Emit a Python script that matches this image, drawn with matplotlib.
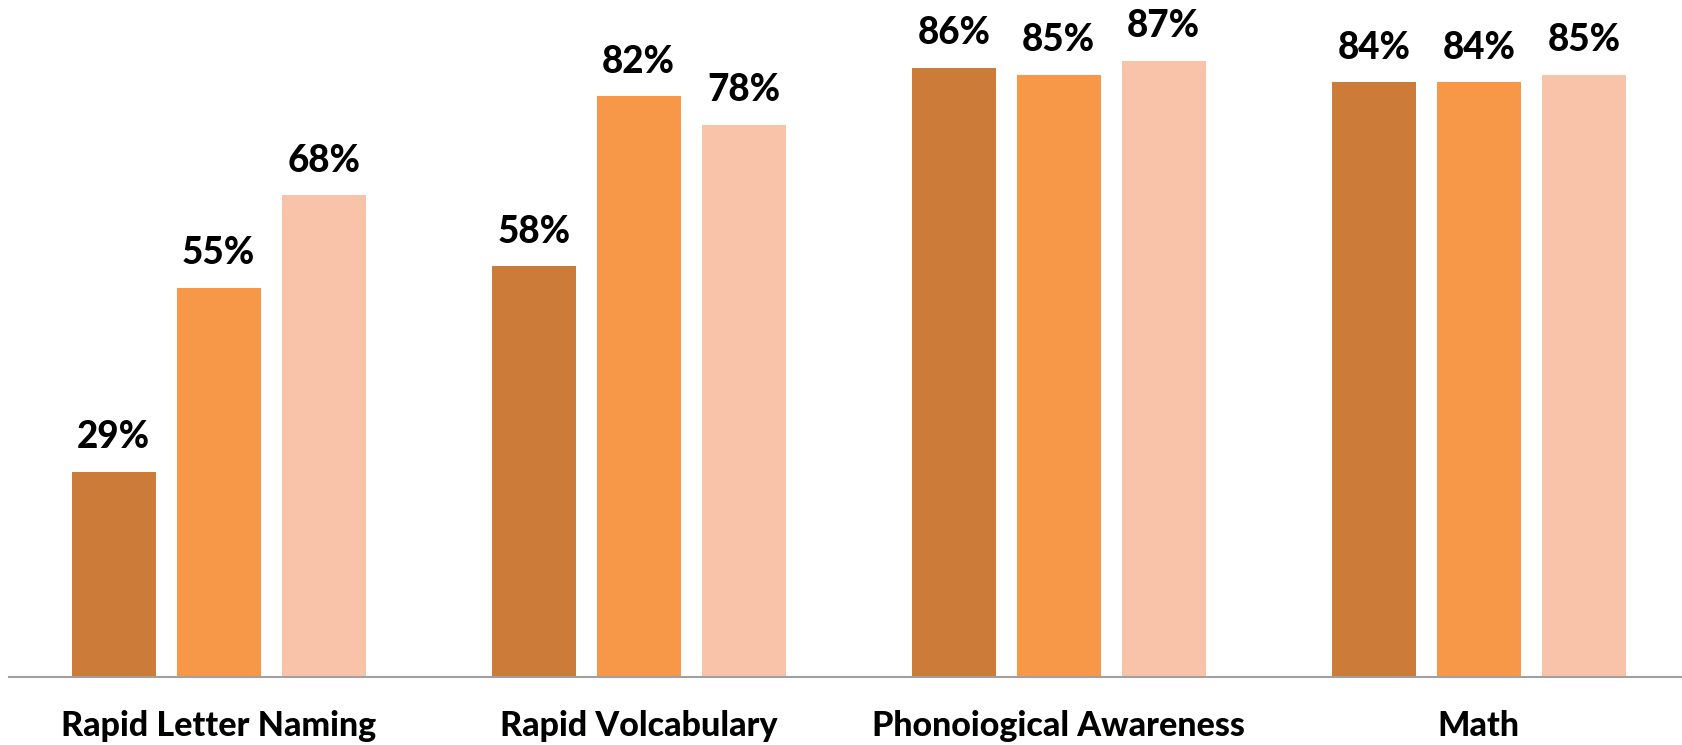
import numpy as np
import matplotlib.pyplot as plt

plt.rcParams['font.family'] = ['Lato', 'DejaVu Sans']

categories = ["Rapid Letter Naming", "Rapid Volcabulary", "Phonoiogical Awareness", "Math"]
series_1 = [29, 58, 86, 84]
series_2 = [55, 82, 85, 84]
series_3 = [68, 78, 87, 85]
colors = ["#CC7B38", "#F79848", "#F9C3AA"]

fig = plt.figure(figsize=(16.83, 7.45), dpi=100)
ax = fig.add_axes([0.0051, 0.0913, 0.9949, 0.9087])

x = np.arange(len(categories))
width = 0.2
step = 0.25
for i, (vals, c) in enumerate(zip([series_1, series_2, series_3], colors)):
    pos = x + (i - 1) * step
    ax.bar(pos, vals, width=width, color=c)
    for p, v in zip(pos, vals):
        ax.annotate(f"{v}%", (p, v), xytext=(0, 17), textcoords="offset points",
                    ha="center", va="baseline", fontsize=26.5, fontweight="black")

ax.set_xlim(-0.5, 3.486)
ax.set_ylim(0, 95.6)
ax.set_xticks(x)
ax.set_xticklabels(categories, fontsize=24.5, fontweight="black")
ax.tick_params(axis="x", length=0, pad=24)
ax.set_yticks([])
for s in ["top", "left", "right"]:
    ax.spines[s].set_visible(False)
ax.spines["bottom"].set_color("#A0A0A0")
ax.spines["bottom"].set_linewidth(1.5)

fig.savefig("out.png", dpi=100)
